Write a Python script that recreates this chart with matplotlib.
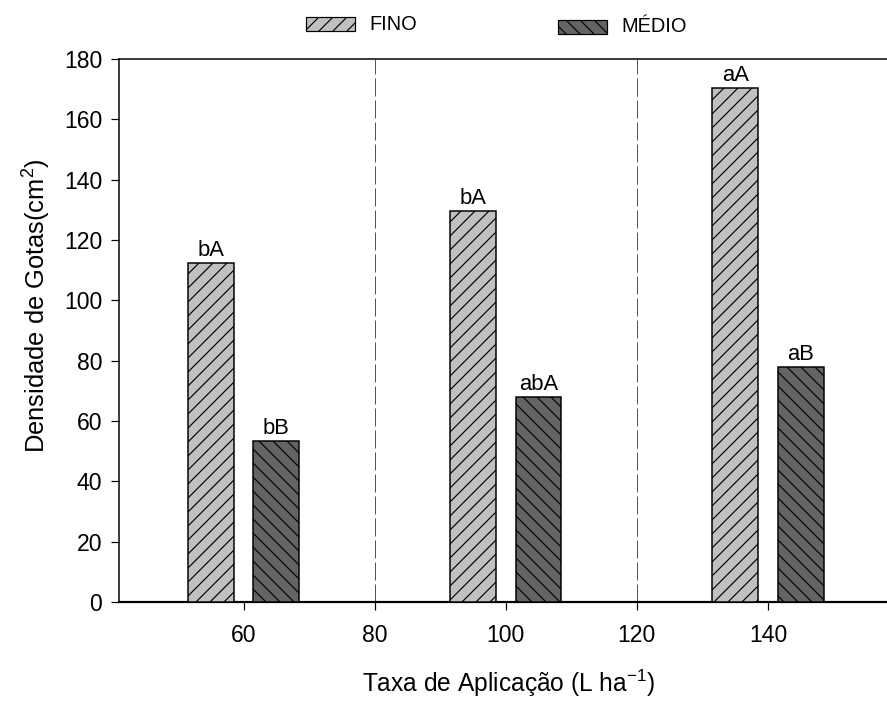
import matplotlib
matplotlib.use("Agg")
import matplotlib.pyplot as plt
import matplotlib.patches as mpatches

plt.rcParams['font.family'] = ['Liberation Sans', 'DejaVu Sans']
plt.rcParams['mathtext.fontset'] = 'custom'
plt.rcParams['mathtext.rm'] = 'Liberation Sans'
plt.rcParams['mathtext.it'] = 'Liberation Sans'
plt.rcParams['hatch.linewidth'] = 1.0

DPI = 84
W, H = 887, 702


def pt(px):
    # pixel sizes -> points at this dpi
    return px * 72.0 / DPI


taxas = [60, 100, 140]
fino = [112.5, 129.5, 170.5]
medio = [53.5, 68.0, 78.0]
letras_fino = ["bA", "bA", "aA"]
letras_medio = ["bB", "abA", "aB"]
divisorias = [80, 120]

cor_fino = "#c0c0c0"
cor_medio = "#646464"

fig = plt.figure(figsize=(W / DPI, H / DPI), dpi=DPI)
ax = fig.add_axes([119 / W, 100 / H, 780 / W, 543 / H])

x_fino = [t - 5 for t in taxas]
x_medio = [t + 5 for t in taxas]
b1 = ax.bar(x_fino, fino, width=7, color=cor_fino, edgecolor="black",
            linewidth=pt(1.5), hatch="//", zorder=3)
b2 = ax.bar(x_medio, medio, width=7, color=cor_medio, edgecolor="black",
            linewidth=pt(1.5), hatch="\\\\", zorder=3)
ax.bar_label(b1, labels=letras_fino, padding=pt(2), fontsize=pt(22))
ax.bar_label(b2, labels=letras_medio, padding=pt(2), fontsize=pt(22))

for xv in divisorias:
    ax.axvline(xv, color="#555555", linewidth=pt(1), linestyle=(0, (18, 4)),
               zorder=1)

ax.set_xlim(41, 160)
ax.set_ylim(0, 180)
ax.set_xticks([60, 80, 100, 120, 140])
ax.set_yticks(range(0, 181, 20))
ax.tick_params(axis="both", direction="out", length=pt(8), width=pt(1.2),
               labelsize=pt(23))
ax.tick_params(axis="x", pad=pt(14))
ax.tick_params(axis="y", pad=pt(9))
for s in ["left", "top", "right"]:
    ax.spines[s].set_linewidth(pt(1.5))
ax.spines["bottom"].set_linewidth(pt(2.2))

ax.set_ylabel("Densidade de Gotas(cm$^2$)", fontsize=pt(25.5))
ax.yaxis.set_label_coords(-0.084, 0.545)
ax.set_xlabel("Taxa de Aplicação (L ha$^{-1}$)", fontsize=pt(24.5),
              labelpad=pt(21))

# legenda no topo, fora do eixo
legenda = [
    (306, 17, cor_fino, "//", "FINO"),
    (558, 20, cor_medio, "\\\\", "MÉDIO"),
]
for x0, y0, cor, hh, nome in legenda:
    r = mpatches.Rectangle((x0 / W, 1 - (y0 + 14) / H), 49 / W, 14 / H,
                           transform=fig.transFigure, facecolor=cor,
                           edgecolor="black", linewidth=pt(1.2), hatch=hh)
    fig.patches.append(r)
    fig.text((x0 + 63) / W, 1 - (y0 + 7) / H, nome, fontsize=pt(20),
             va="center", ha="left")

fig.savefig("out.png", dpi=DPI)
